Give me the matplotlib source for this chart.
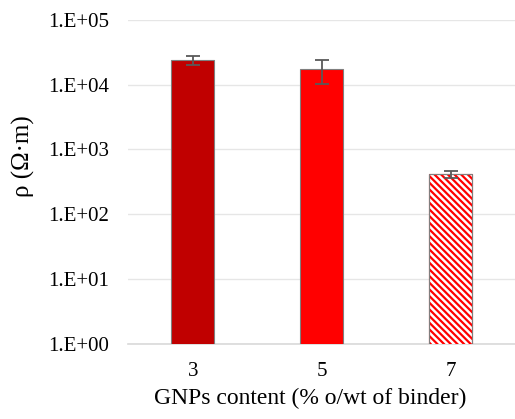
import matplotlib.pyplot as plt
import numpy as np
from matplotlib.ticker import FixedLocator, NullLocator

plt.rcParams['font.family'] = ['Liberation Serif', 'DejaVu Serif']
plt.rcParams['hatch.linewidth'] = 1.6

categories = ['3', '5', '7']
resistivity = [23800, 17100, 412]
err_low = [4100, 6850, 50]
err_high = [3900, 6700, 51]
colors = ['#C00000', '#FF0000', 'white']
hatches = [None, None, '\\\\\\\\\\']

fig = plt.figure(figsize=(5.15, 4.19), dpi=100)
ax = fig.add_axes([0.249, 0.179, 0.751, 0.774])

x = np.arange(len(categories))
for i in range(len(categories)):
    ax.bar(x[i], resistivity[i], width=0.33, color=colors[i], edgecolor='#7F7F7F',
           linewidth=0.8, hatch=hatches[i], zorder=3)
ax.errorbar(x, resistivity, yerr=[err_low, err_high], fmt='none', ecolor='#595959',
            elinewidth=1.3, capsize=5, capthick=1.3, zorder=4)

# hatch colour for the striped bar
for p in ax.patches[2:3]:
    p.set_edgecolor('#FF0000')
ax.bar(x[2], resistivity[2], width=0.33, fill=False, edgecolor='#7F7F7F', linewidth=0.8, zorder=3)

ax.set_yscale('log')
ax.set_ylim(1, 1e5)
ax.set_xlim(-0.5, 2.5)
ax.yaxis.set_major_locator(FixedLocator([10.0 ** k for k in range(6)]))
ax.yaxis.set_minor_locator(NullLocator())
ax.set_yticklabels([f"1.E+0{k}" for k in range(6)])
ax.set_xticks(x)
ax.set_xticklabels(categories)
ax.tick_params(length=0, labelsize=15, pad=13)
ax.tick_params(axis='y', pad=14)
ax.grid(axis='y', color='#E6E6E6', linewidth=1, zorder=0)
ax.set_axisbelow(True)
for s in ['top', 'right', 'left']:
    ax.spines[s].set_visible(False)
ax.spines['bottom'].set_color('#D9D9D9')
ax.spines['bottom'].set_linewidth(1.2)

ax.set_xlabel('GNPs content (% o/wt of binder)', fontsize=17)
ax.set_ylabel('ρ (Ω·m)', fontsize=18)
ax.xaxis.set_label_coords(0.47, -0.135)
ax.yaxis.set_label_coords(-0.24, 0.58)

fig.savefig('out.png', dpi=100)
